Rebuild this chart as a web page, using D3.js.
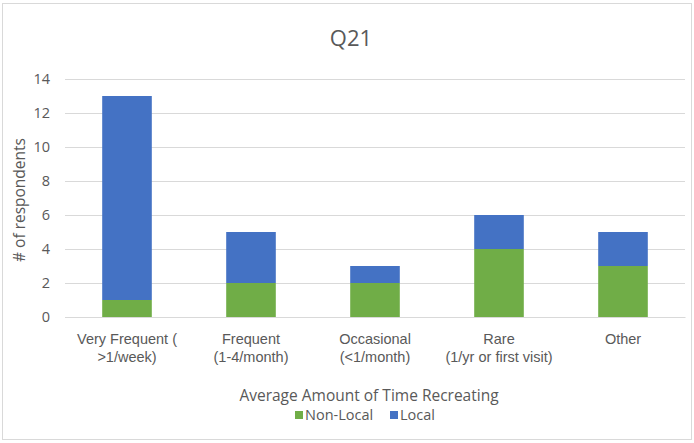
<!DOCTYPE html>
<html><head><meta charset="utf-8">
<script src="https://cdn.jsdelivr.net/npm/d3@7"></script>
<style>body{margin:0;background:#fff;}svg{display:block;font-family:"Open Sans",sans-serif;}</style>
</head><body>
<svg id="c" width="694" height="443"></svg>
<script>
const categories = [["Very Frequent (", ">1/week)"], ["Frequent", "(1-4/month)"], ["Occasional", "(<1/month)"], ["Rare", "(1/yr or first visit)"], ["Other"]];
const nonLocal = [1, 2, 2, 4, 3];
const local = [12, 3, 1, 2, 2];
const seriesNames = ["Non-Local", "Local"];
const yTicks = [0, 2, 4, 6, 8, 10, 12, 14];
const colors = ["#70AD47", "#4472C4"];

const svg = d3.select("#c");
svg.append("rect").attr("x", 2.5).attr("y", 3.5).attr("width", 689).attr("height", 436)
  .attr("fill", "#fff").attr("stroke", "#d9d9d9");

const m = {l: 65, r: 685, t: 79, b: 317};
const idx = categories.map((d, i) => i);
const x = d3.scaleBand().domain(idx).range([m.l, m.r]).paddingInner(0.6).paddingOuter(0.3);
const y = d3.scaleLinear().domain([0, 14]).range([m.b, m.t]);

// gridlines
svg.append("g").selectAll("line").data(yTicks).join("line")
  .attr("x1", m.l).attr("x2", m.r)
  .attr("y1", d => Math.round(y(d)) + 0.5).attr("y2", d => Math.round(y(d)) + 0.5)
  .attr("stroke", "#d9d9d9").attr("stroke-width", 1);

// y axis labels
const yAxis = d3.axisLeft(y).tickValues(yTicks).tickSize(0).tickPadding(0);
const gy = svg.append("g").attr("transform", `translate(${m.l - 15},0)`).call(yAxis);
gy.select(".domain").remove();
gy.selectAll("text").attr("fill", "#595959").style("font-size", "14.5px").style("font-family", "'Open Sans',sans-serif");

// stacked
const data = idx.map(i => ({i, "Non-Local": nonLocal[i], "Local": local[i]}));
const stacked = d3.stack().keys(seriesNames)(data);
svg.append("g").selectAll("g").data(stacked).join("g")
  .attr("fill", (d, k) => colors[k])
  .selectAll("rect").data(d => d).join("rect")
  .attr("x", d => x(d.data.i)).attr("width", x.bandwidth())
  .attr("y", d => y(d[1])).attr("height", d => y(d[0]) - y(d[1]));

// x axis labels
const xAxis = d3.axisBottom(x).tickSize(0).tickFormat(() => "");
const gx = svg.append("g").attr("transform", `translate(0,${m.b})`).call(xAxis);
gx.select(".domain").attr("stroke", "#d9d9d9");
gx.selectAll(".tick").each(function(i) {
  const t = d3.select(this).append("text").attr("fill", "#595959")
    .attr("text-anchor", "middle").style("font-size", "14.5px");
  categories[i].forEach((line, k) => {
    t.append("tspan").attr("x", 0).attr("y", 27 + k * 18).text(line);
  });
});

// title
svg.append("text").attr("x", 351).attr("y", 46).attr("text-anchor", "middle")
  .attr("fill", "#595959").style("font-size", "22px").text("Q21");

// axis titles
svg.append("text").attr("x", 369).attr("y", 401).attr("text-anchor", "middle")
  .attr("fill", "#595959").style("font-size", "15.5px").text("Average Amount of Time Recreating");
svg.append("text").attr("transform", "translate(25,200) rotate(-90)").attr("text-anchor", "middle")
  .attr("fill", "#595959").style("font-size", "15.5px").text("# of respondents");

// legend
const legend = svg.append("g");
const lx = [295, 390];
seriesNames.forEach((n, k) => {
  legend.append("rect").attr("x", lx[k]).attr("y", 411).attr("width", 8).attr("height", 8).attr("fill", colors[k]);
  legend.append("text").attr("x", lx[k] + 10).attr("y", 420).attr("fill", "#595959")
    .style("font-size", "14.5px").text(n);
});
</script>
</body></html>
